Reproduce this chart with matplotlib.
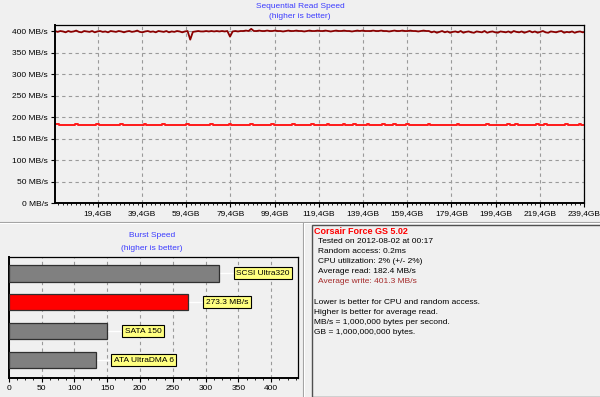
import numpy as np
import matplotlib
matplotlib.use("Agg")
import matplotlib.pyplot as plt
from matplotlib.ticker import FixedLocator, MultipleLocator
from matplotlib.patches import Rectangle
from matplotlib.lines import Line2D

plt.rcParams['font.family'] = ['Liberation Sans', 'DejaVu Sans']

# sequential read test: one sample every 1.2 GB
step_gb = 1.2
write_mbs = [
    401, 399, 401, 400, 398, 401, 399, 400, 402, 399, 398, 401, 400, 399, 401, 398, 400, 401, 399, 400,
    398, 401, 400, 399, 401, 400, 398, 400, 401, 399, 400, 402, 399, 398, 400, 401, 399, 400, 398, 401,
    400, 399, 401, 398, 400, 399, 401, 400, 398, 400, 401, 381, 399, 400, 401, 400, 400, 401, 400, 401,
    400, 401, 400, 401, 400, 401, 388, 400, 401, 400, 401, 401, 402, 401, 406, 401, 401, 402, 401, 401,
    402, 401, 401, 402, 401, 401, 400, 401, 402, 401, 401, 402, 401, 401, 400, 401, 402, 401, 401, 402,
    401, 401, 402, 401, 400, 401, 402, 401, 401, 402, 401, 401, 400, 401, 402, 401, 402, 401, 401, 401,
    402, 401, 401, 402, 401, 401, 400, 401, 402, 401, 401, 402, 401, 401, 402, 401, 401, 400, 401, 402,
    401, 401, 398, 400, 397, 399, 401, 398, 400, 397, 399, 400, 398, 401, 397, 399, 400, 398, 397, 400,
    399, 398, 401, 397, 399, 400, 398, 397, 400, 399, 398, 400, 397, 401, 399, 398, 400, 397, 399, 401,
    398, 400, 397, 399, 401, 398, 397, 400, 399, 398, 400, 401, 397, 399, 398, 400, 397, 399, 400, 398,
    399]
read_mbs = [
    184, 184, 183, 183, 183, 182, 183, 183, 184, 183, 183, 183, 182, 183, 183, 183, 184, 183, 183, 183,
    183, 182, 183, 183, 183, 184, 183, 183, 183, 182, 183, 183, 183, 183, 184, 183, 183, 182, 183, 183,
    183, 184, 183, 183, 183, 183, 182, 183, 183, 183, 184, 183, 183, 183, 182, 183, 183, 183, 183, 184,
    183, 183, 182, 183, 183, 183, 184, 183, 183, 183, 183, 182, 183, 183, 184, 183, 183, 183, 182, 183,
    183, 183, 184, 183, 183, 182, 183, 183, 183, 183, 184, 183, 183, 182, 183, 183, 183, 184, 183, 183,
    183, 182, 183, 184, 183, 183, 183, 182, 183, 184, 183, 183, 183, 184, 183, 182, 183, 183, 184, 183,
    183, 183, 182, 183, 184, 183, 183, 183, 184, 183, 182, 183, 183, 184, 183, 183, 183, 182, 183, 183,
    183, 184, 183, 183, 183, 183, 183, 182, 183, 183, 183, 183, 184, 183, 183, 183, 183, 183, 182, 183,
    183, 183, 183, 184, 183, 183, 183, 183, 183, 182, 183, 184, 183, 183, 184, 183, 183, 183, 183, 182,
    183, 183, 184, 183, 183, 184, 183, 183, 183, 183, 183, 182, 183, 184, 183, 183, 183, 183, 184, 183,
    183]
gb_ticks = [19.4, 39.4, 59.4, 79.4, 99.4, 119.4, 139.4, 159.4, 179.4, 199.4, 219.4, 239.4]
gb_labels = ['19,4GB', '39,4GB', '59,4GB', '79,4GB', '99,4GB', '119,4GB', '139,4GB',
             '159,4GB', '179,4GB', '199,4GB', '219,4GB', '239,4GB']
mbs_ticks = [0, 50, 100, 150, 200, 250, 300, 350, 400]

# burst speed
burst_names = ['SCSI Ultra320', '273.3 MB/s', 'SATA 150', 'ATA UltraDMA 6']
burst_values = [320, 273.3, 150, 133]
burst_colors = ['#808080', '#FF0000', '#808080', '#808080']

info_title = 'Corsair Force GS 5.02'
info_lines = ['Tested on 2012-08-02 at 00:17', 'Random access: 0.2ms',
              'CPU utilization: 2% (+/- 2%)', 'Average read: 182.4 MB/s']
info_write = 'Average write: 401.3 MB/s'
notes = ['Lower is better for CPU and random access.', 'Higher is better for average read.',
         'MB/s = 1,000,000 bytes per second.', 'GB = 1,000,000,000 bytes.']

bg = '#F0F0F0'
blue = '#3C3CFF'
grid_kw = dict(color='#9A9A9A', linestyle=(0, (3, 3)), linewidth=0.8)
W, H = 600, 397

fig = plt.figure(figsize=(6, 3.97), dpi=100, facecolor=bg)

def fx(px):
    return px / W

def fy(py):
    return 1 - py / H

# ---- sequential read chart ----
ax = fig.add_axes([fx(55), fy(203.5), fx(584 - 55), (203.5 - 25) / H], facecolor=bg)
gb = np.arange(len(write_mbs)) * step_gb
ax.plot(gb, write_mbs, color='#8B0000', lw=1.3)
gb_r = np.arange(len(read_mbs)) * step_gb
ax.plot(gb_r, read_mbs, color='#FF1A1A', lw=1.4, drawstyle='steps-mid')
ax.set_xlim(0, 239.4)
ax.set_ylim(0, 415)
ax.xaxis.set_major_locator(FixedLocator(gb_ticks))
ax.xaxis.set_minor_locator(FixedLocator(np.arange(1.4, 239.5, 2)))
ax.set_xticklabels(gb_labels)
ax.set_yticks(mbs_ticks)
ax.set_yticklabels([f'{v} MB/s' for v in mbs_ticks])
ax.grid(True, **grid_kw)
ax.tick_params(labelsize=6, length=3, width=0.8, pad=2)
ax.tick_params(which='minor', length=1.5, width=0.6)
for s in ax.spines.values():
    s.set_color('black')
    s.set_linewidth(0.9)
ax.spines['left'].set_linewidth(1.4)
ax.spines['bottom'].set_linewidth(1.4)
fig.text(fx(300), fy(6), 'Sequential Read Speed', ha='center', va='center', fontsize=6, color=blue)
fig.text(fx(300), fy(17), '(higher is better)', ha='center', va='center', fontsize=6, color=blue)

# separators
fig.add_artist(Line2D([0, 1], [fy(222), fy(222)], color='#A0A0A0', lw=0.8))
fig.add_artist(Line2D([0, 1], [fy(223), fy(223)], color='white', lw=0.8))
fig.add_artist(Line2D([fx(303), fx(303)], [fy(223), 0], color='#A0A0A0', lw=0.8))
fig.add_artist(Line2D([fx(304), fx(304)], [fy(223), 0], color='white', lw=0.8))

# ---- burst speed chart ----
bx = fig.add_axes([fx(8.7), fy(378), fx(298 - 8.7), 121 / H], facecolor=bg)
ypos = np.arange(len(burst_values))[::-1]
bx.barh(ypos, burst_values, height=0.575, color=burst_colors, edgecolor='#303030', lw=0.9, zorder=3)
for y, v, name in zip(ypos, burst_values, burst_names):
    bx.plot([v, v + 25], [y, y], color='white', lw=1, zorder=2)
    bx.text(v + 27, y, name, ha='left', va='center', fontsize=6, zorder=4,
            bbox=dict(boxstyle='square,pad=0.3', facecolor='#FFFF80', edgecolor='black', lw=0.8))
bx.set_xlim(0, 441)
bx.set_ylim(-0.62, 3.56)
bx.set_yticks([])
bx.set_xticks(range(0, 401, 50))
bx.xaxis.set_minor_locator(MultipleLocator(12.5))
bx.grid(True, axis='x', **grid_kw)
bx.set_axisbelow(True)
bx.tick_params(labelsize=6, length=3, width=0.8, pad=2)
bx.tick_params(which='minor', length=1.5, width=0.6)
for s in bx.spines.values():
    s.set_color('black')
    s.set_linewidth(0.9)
bx.spines['left'].set_linewidth(1.4)
bx.spines['bottom'].set_linewidth(1.4)
fig.text(fx(152), fy(236), 'Burst Speed', ha='center', va='center', fontsize=6, color=blue)
fig.text(fx(152), fy(248), '(higher is better)', ha='center', va='center', fontsize=6, color=blue)

# ---- info panel ----
fig.add_artist(Rectangle((fx(312), 0), fx(300), fy(225), transform=fig.transFigure,
                         facecolor=bg, edgecolor='#505050', lw=1))
fig.text(fx(314), fy(231), info_title, ha='left', va='center', fontsize=6.5,
         color='#FF0000', fontweight='bold')
for i, line in enumerate(info_lines):
    fig.text(fx(318.5), fy(241.5 + 10 * i), line, ha='left', va='center', fontsize=6)
fig.text(fx(318.5), fy(281.5), info_write, ha='left', va='center', fontsize=6, color='#A52A2A')
for i, line in enumerate(notes):
    fig.text(fx(314), fy(303 + 10 * i), line, ha='left', va='center', fontsize=6)

fig.savefig('out.png', dpi=100, facecolor=bg)
